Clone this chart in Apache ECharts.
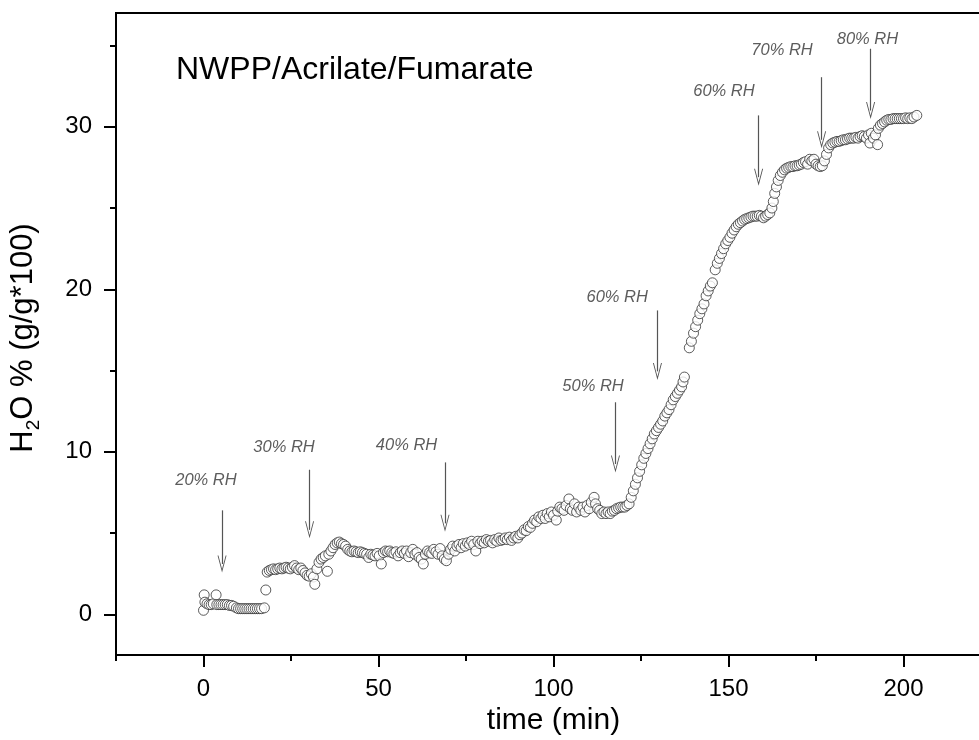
<!DOCTYPE html>
<html>
<head>
<meta charset="utf-8">
<script src="https://cdn.jsdelivr.net/npm/echarts@6/dist/echarts.min.js"></script>
<style>html,body{margin:0;padding:0;background:#fff}#c{width:979px;height:740px}</style>
</head>
<body>
<div id="c"></div>
<script>
// ---- data (time in min, H2O % in g/g*100) ----
const seg20RH = [[0,0.25],[0.2,1.2],[0.4,0.75],[1.0,0.65],[1.6,0.6],[2.2,0.6],[2.8,0.65],[3.6,1.2],[3.8,0.6],[4.4,0.6],[5.0,0.6],[5.6,0.6],[6.2,0.6],[6.8,0.6],[7.4,0.55],[8.0,0.55],[8.6,0.5],[9.4,0.4],[10.0,0.35],[10.6,0.35],[11.2,0.35],[11.8,0.35],[12.4,0.35],[13.0,0.35],[13.6,0.35],[14.2,0.35],[14.8,0.35],[15.4,0.35],[16.0,0.35],[16.6,0.35],[17.4,0.4]];
const seg30RH = [[17.8,1.5],[18.2,2.6],[18.8,2.7],[19.4,2.75],[20.0,2.8],[20.6,2.75],[21.2,2.8],[21.8,2.85],[22.4,2.8],[23.0,2.85],[23.6,2.9],[24.2,2.85],[24.8,2.8],[25.4,2.9],[26.0,3.0],[26.6,2.85],[27.2,2.75],[27.8,2.85],[28.4,2.7],[29.0,2.55],[29.6,2.4],[30.2,2.35],[30.8,2.5],[31.4,2.3],[31.8,1.85],[32.4,2.8],[33.0,3.2],[33.6,3.4],[34.2,3.5],[34.8,3.6],[35.4,2.65],[35.8,3.7],[36.4,3.9],[37.0,4.1],[37.6,4.3],[38.2,4.4],[38.8,4.45]];
const seg40RH = [[39.4,4.35],[40.0,4.3],[40.6,4.2],[41.2,4.0],[41.8,3.9],[42.4,3.85],[43.0,3.9],[43.6,3.85],[44.2,3.8],[44.8,3.85],[45.4,3.8],[46.0,3.75],[46.6,3.7],[47.2,3.5],[47.8,3.7],[48.4,3.65],[49.0,3.6],[49.6,3.75],[50.2,3.6],[50.8,3.1],[51.4,3.8],[52.0,3.9],[52.6,3.85],[53.2,3.9],[53.8,3.8],[54.4,3.75],[55.0,3.85],[55.6,3.6],[56.2,3.8],[56.8,3.9],[57.4,3.75],[58.0,3.9],[58.6,3.55],[59.2,3.8],[59.8,4.0],[60.4,3.7],[61.0,3.8],[61.6,3.5],[62.2,3.4],[62.8,3.1],[63.4,3.7],[64.0,3.9],[64.6,3.8],[65.2,3.75],[65.8,4.0],[66.4,3.85],[67.0,3.7],[67.6,4.05],[68.2,3.6],[68.8,3.4],[69.4,3.3],[70.0,3.7],[70.6,4.0],[71.2,4.2],[71.8,3.9]];
const seg40to50RH = [[72.4,4.2],[73.0,4.3],[73.6,4.1],[74.2,4.35],[74.8,4.2],[75.4,4.4],[76.0,4.3],[76.6,4.5],[77.2,4.3],[77.8,3.9],[78.4,4.5],[79.0,4.35],[79.6,4.5],[80.2,4.4],[80.8,4.6],[81.4,4.5],[82.0,4.55],[82.6,4.4],[83.2,4.6],[83.8,4.5],[84.4,4.7],[85.0,4.55],[85.6,4.6],[86.2,4.7],[86.8,4.6],[87.4,4.75],[88.0,4.55],[88.6,4.7],[89.2,4.8],[89.8,4.7],[90.4,4.9],[91.0,5.0],[91.6,5.2],[92.2,5.15],[92.8,5.4],[93.4,5.35],[94.0,5.6],[94.6,5.8],[95.2,5.7],[95.8,6.0],[96.4,5.9],[97.0,6.1],[97.6,5.9],[98.2,6.2],[98.8,6.0],[99.4,6.3],[100.0,6.1],[100.8,5.8],[101.2,6.35],[101.8,6.6],[102.4,6.5],[103.0,6.4],[103.6,6.7],[104.4,7.1],[104.8,6.5],[105.4,6.4],[106.0,6.8],[106.6,6.3],[107.2,6.6],[107.8,6.4],[108.4,6.6],[109.0,6.3],[109.6,6.7],[110.2,6.5],[110.8,6.9],[111.6,7.2],[112.0,6.8],[112.6,6.5],[113.2,6.4],[113.8,6.2],[114.4,6.3],[115.0,6.2],[115.6,6.3],[116.2,6.2],[116.8,6.35],[117.4,6.4],[118.0,6.5],[118.6,6.55],[119.2,6.6],[119.8,6.6],[120.4,6.6],[121.0,6.7]];
const seg50RH = [[121.6,6.8],[122.2,7.2],[122.8,7.6],[123.4,8.0],[124.0,8.4],[124.6,8.8],[125.2,9.2],[125.8,9.6],[126.4,9.9],[127.0,10.2],[127.6,10.5],[128.2,10.8],[128.8,11.1],[129.4,11.3],[130.0,11.5],[130.6,11.7],[131.2,11.9],[131.8,12.2],[132.4,12.4],[133.0,12.6],[133.6,12.9],[134.2,13.2],[134.8,13.4],[135.4,13.6],[136.0,13.8],[136.6,14.0],[137.0,14.3],[137.4,14.6]];
const seg60RH = [[138.8,16.4],[139.4,16.8],[140.0,17.3],[140.6,17.7],[141.2,18.1],[141.8,18.5],[142.4,18.8],[143.0,19.1],[143.6,19.6],[144.2,19.9],[144.8,20.2],[145.4,20.4],[146.2,21.2],[146.8,21.6],[147.4,21.9],[148.0,22.2],[148.6,22.5],[149.2,22.8],[149.8,23.0],[150.4,23.2],[151.0,23.45],[151.6,23.65],[152.2,23.85],[152.8,24.0],[153.4,24.1],[154.0,24.2],[154.6,24.3],[155.2,24.35],[155.8,24.4],[156.4,24.45],[157.0,24.5],[157.6,24.5],[158.2,24.5],[158.8,24.55],[159.4,24.5],[160.0,24.4],[160.6,24.5],[161.2,24.6],[161.8,24.7],[162.4,25.0]];
const seg70RH = [[162.8,25.4],[163.2,25.9],[163.7,26.3],[164.2,26.7],[164.8,27.0],[165.4,27.2],[166.0,27.35],[166.6,27.45],[167.2,27.5],[167.8,27.55],[168.4,27.55],[169.0,27.6],[169.6,27.6],[170.2,27.65],[170.8,27.7],[171.4,27.8],[172.0,27.85],[172.6,27.7],[173.2,28.0],[173.8,27.9],[174.4,28.0],[175.0,27.7],[175.6,27.6],[176.2,27.55],[176.8,27.6],[177.4,27.9],[178.0,28.3]];
const seg80RH = [[178.6,28.7],[179.2,28.9],[179.8,29.0],[180.4,29.05],[181.0,29.1],[181.6,29.1],[182.2,29.15],[182.8,29.2],[183.4,29.2],[184.0,29.25],[184.6,29.3],[185.2,29.3],[185.8,29.3],[186.4,29.35],[187.0,29.3],[187.6,29.4],[188.2,29.45],[188.8,29.4],[189.4,29.3],[190.0,29.5],[190.4,29.0],[190.8,29.6],[191.4,29.3],[192.0,29.5],[192.6,28.9],[192.8,29.9],[193.4,30.1],[194.0,30.2],[194.6,30.3],[195.2,30.4],[195.8,30.45],[196.4,30.45],[197.0,30.5],[197.6,30.5],[198.2,30.5],[198.8,30.5],[199.4,30.5],[200.0,30.5],[200.6,30.55],[201.2,30.5],[201.8,30.55],[202.4,30.5],[203.0,30.6],[203.8,30.7]];

// annotations
const rhLabels   = ['20% RH','30% RH','40% RH','50% RH','60% RH','60% RH','70% RH','80% RH'];
const labelTime  = [0.7, 23.0, 58.0, 111.3, 118.2, 148.7, 165.3, 189.7];
const labelValue = [8.25, 10.3, 10.4, 14.0, 19.5, 32.2, 34.7, 35.4];
const arrowTime  = [5.3, 30.3, 69.0, 117.7, 129.7, 158.6, 176.6, 190.6];
const arrowTop   = [6.4, 8.9, 9.35, 13.05, 18.7, 30.7, 33.05, 34.8];
const arrowHead  = [3.1, 5.2, 5.6, 9.25, 14.95, 26.9, 29.2, 31.0];

// axis ticks
const xMajor = [0, 50, 100, 150, 200];
const xMinor = [-25, 25, 75, 125, 175, 225];
const yMajor = [0, 10, 20, 30];
const yMinor = [5, 15, 25, 35];

const points = [].concat(seg20RH, seg30RH, seg40RH, seg40to50RH, seg50RH, seg60RH, seg70RH, seg80RH);
const FONT = '"Liberation Sans", Arial, sans-serif';

const chart = echarts.init(document.getElementById('c'), null, {renderer: 'canvas'});
const axisBase = {type: 'value', splitLine: {show: false}, axisLine: {onZero: false, lineStyle: {color: '#000', width: 2}}};
const option = {
  animation: false,
  backgroundColor: '#fff',
  grid: {left: 116, top: 13, width: 875, height: 642, show: true, borderColor: '#000', borderWidth: 2,
         containLabel: false, outerBoundsMode: 'none'},
  title: {text: 'NWPP/Acrilate/Fumarate', left: 171, top: 49, textStyle: {fontFamily: FONT, fontWeight: 'normal', fontSize: 32, color: '#000'}},
  xAxis: [
    Object.assign({}, axisBase, {min: -25, max: 225, position: 'bottom',
      axisTick: {length: 12, lineStyle: {color: '#000', width: 2}, customValues: xMajor},
      axisLabel: {customValues: xMajor, fontFamily: FONT, fontSize: 24, color: '#000', margin: 22},
      name: 'time (min)', nameLocation: 'middle', nameGap: 47,
      nameTextStyle: {fontFamily: FONT, fontSize: 30, color: '#000'}}),
    Object.assign({}, axisBase, {min: -25, max: 225, position: 'bottom', axisLine: {show: false, onZero: false},
      axisTick: {length: 6, lineStyle: {color: '#000', width: 2}, customValues: xMinor},
      axisLabel: {show: false}})
  ],
  yAxis: [
    Object.assign({}, axisBase, {min: -2.5, max: 37, position: 'left',
      axisTick: {length: 12, lineStyle: {color: '#000', width: 2}, customValues: yMajor},
      axisLabel: {customValues: yMajor, fontFamily: FONT, fontSize: 24, color: '#000', margin: 24}}),
    Object.assign({}, axisBase, {min: -2.5, max: 37, position: 'left', axisLine: {show: false, onZero: false},
      axisTick: {length: 6, lineStyle: {color: '#000', width: 2}, customValues: yMinor},
      axisLabel: {show: false}})
  ],
  graphic: [{
    type: 'text', x: 23, y: 338, rotation: Math.PI / 2,
    style: {
      text: '{a|H}{b|2}{a|O % (g/g*100)}',
      align: 'center', verticalAlign: 'middle',
      rich: {
        a: {fontFamily: FONT, fontSize: 31, fill: '#000', lineHeight: 40, verticalAlign: 'middle'},
        b: {fontFamily: FONT, fontSize: 19, fill: '#000', lineHeight: 40, verticalAlign: 'bottom'}
      }
    }
  }],
  series: [
    {
      type: 'scatter', xAxisIndex: 0, yAxisIndex: 0, data: points,
      symbol: 'circle', symbolSize: 10,
      itemStyle: {color: '#fff', borderColor: '#333', borderWidth: 1},
      silent: true,
      markLine: {
        silent: true, animation: false,
        symbol: ['none', 'path://M0,10 L5,0 L10,10 L9,10 L5,2 L1,10 Z'],
        symbolSize: [9, 17],
        lineStyle: {color: '#555', width: 1.2, type: 'solid'},
        label: {show: false},
        emphasis: {disabled: true},
        data: arrowTime.map((t, i) => [{coord: [t, arrowTop[i]]}, {coord: [t, arrowHead[i]]}])
      }
    },
    {
      type: 'scatter', xAxisIndex: 0, yAxisIndex: 0, symbolSize: 0, silent: true,
      data: rhLabels.map((s, i) => ({name: s, value: [labelTime[i], labelValue[i]]})),
      label: {show: true, position: 'inside', formatter: p => p.name,
        fontFamily: FONT, fontStyle: 'italic', fontSize: 16.5, color: '#333'}
    }
  ]
};
chart.setOption(option);
</script>
</body>
</html>
